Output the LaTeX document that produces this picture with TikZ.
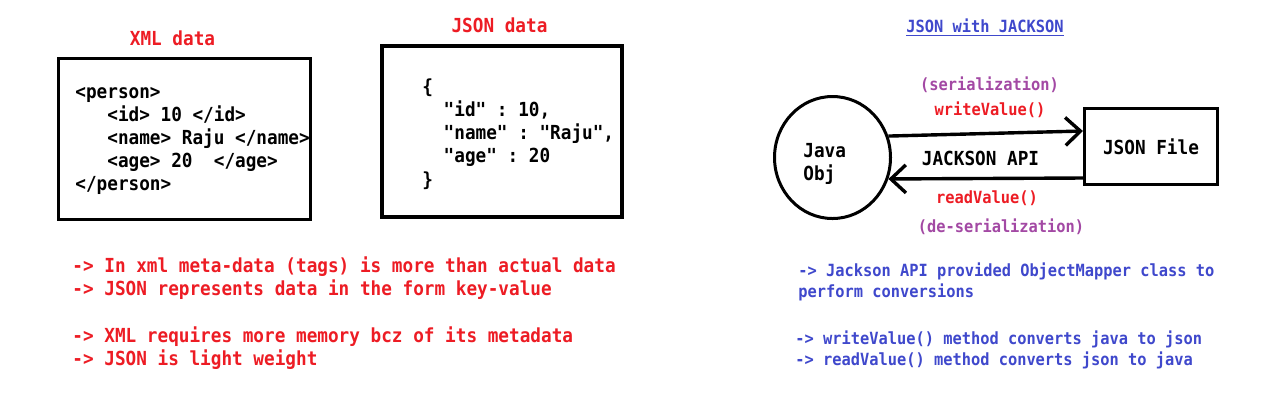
\documentclass[tikz,border=0pt]{standalone}
\usepackage{fontspec}
\setmonofont[FakeStretch=0.914]{DejaVu Sans Mono}
\usetikzlibrary{arrows.meta}
\usetikzlibrary{shapes.geometric}

\definecolor{paintred}{HTML}{ED1C24}
\definecolor{paintblue}{HTML}{3F48CC}
\definecolor{paintpurple}{HTML}{A349A4}

\newcommand{\codegap}[1]{\hspace*{#1\fontcharwd\font`x}}

\tikzset{
	big/.style={font=\ttfamily\bfseries\fontsize{9.68}{11.6}\selectfont, inner sep=0pt},
	small/.style={font=\ttfamily\bfseries\fontsize{8.4}{10.25}\selectfont, inner sep=0pt},
	frame/.style={draw, line width=1.6pt, inner sep=0pt},
	flow/.style={line width=1.7pt, -{Straight Barb[length=7.5pt,width=14pt,line width=1.7pt]}}
}

\begin{document}
\begin{tikzpicture}[x=0.5pt,y=-0.5pt]
		\useasboundingbox[fill=white] (0,0) rectangle (1280,404);
		% xml and json
		\node[big, text=paintred] (xmltitle) at (172.5,38) {XML data};
		\node[frame, minimum width=126pt, minimum height=80.5pt] (xmlbox) at (184.5,139) {};
		\node[big, align=left, anchor=west] (xmlcode) at (75,141) {<person>\\\codegap{3}<id> 10 </id>\\\codegap{3}<name> Raju </name>\\\codegap{3}<age> 20\ \ </age>\\</person>};
		\node[big, text=paintred] (jsontitle) at (499.5,25) {JSON data};
		\node[frame, minimum width=120pt, minimum height=85.5pt] (jsonbox) at (502,131.5) {};
		\node[big, align=left, anchor=west] (jsoncode) at (422,134) {\{\\\codegap{2}"id" : 10,\\\codegap{2}"name" : "Raju",\\\codegap{2}"age" : 20\\\}};
		\node[big, text=paintred, align=left, anchor=west] (notesa) at (72,278) {-> In xml meta-data (tags) is more than actual data\\-> JSON represents data in the form key-value};
		\node[big, text=paintred, align=left, anchor=west] (notesb) at (72,348) {-> XML requires more memory bcz of its metadata\\-> JSON is light weight};
		% jackson
		\node[small, text=paintblue] (jacksontitle) at (985,28) {\underline{JSON with JACKSON}};
		\node[ellipse, draw, line width=1.5pt, minimum width=58pt, minimum height=61pt] (javaobj) at (832.5,157.5) {};
		\node[big, align=left, anchor=west] (javatext) at (803,164) {Java\\Obj};
		\node[frame, big, minimum width=66.5pt, minimum height=38pt] (jsonfile) at (1151,146.5) {JSON File};
		\draw[flow] (javaobj.21) -- ([yshift=7.75pt]jsonfile.west);
		\draw[flow] ([yshift=-15.75pt]jsonfile.west) -- (javaobj.-21.5);
		\node[small, text=paintpurple] (ser) at (989.5,85) {(serialization)};
		\node[small, text=paintred] (write) at (990,110) {writeValue()};
		\node[big] (api) at (980.5,158) {JACKSON API};
		\node[small, text=paintred] (read) at (987,198) {readValue()};
		\node[small, text=paintpurple] (deser) at (1001,227) {(de-serialization)};
		\node[small, text=paintblue, align=left, anchor=west] (mapper) at (798,282) {-> Jackson API provided ObjectMapper class to\\perform conversions};
		\node[small, text=paintblue, align=left, anchor=west] (methods) at (795,350) {-> writeValue() method converts java to json\\-> readValue() method converts json to java};
	\end{tikzpicture}
\end{document}
